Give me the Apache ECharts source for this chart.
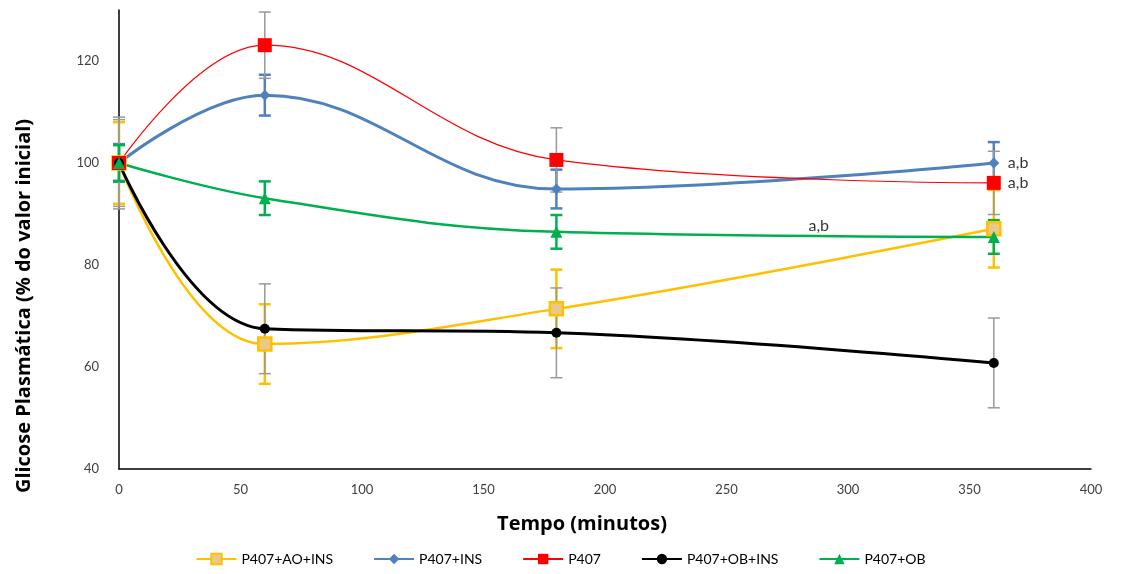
<!DOCTYPE html>
<html><head><meta charset="utf-8">
<script src="https://cdn.jsdelivr.net/npm/echarts@6/dist/echarts.min.js"></script>
<style>html,body{margin:0;padding:0;background:#fff}#c{width:1121px;height:574px}</style>
</head><body><div id="c"></div>
<script>
const times = [0, 60, 180, 360];
const seriesNames = ['P407+AO+INS', 'P407+INS', 'P407', 'P407+OB+INS', 'P407+OB'];
const aoIns = [100, 64.5, 71.4, 87.1];
const aoInsErr = [8, 7.8, 7.7, 7.6];
const ins = [100, 113.3, 94.9, 100];
const insErr = [3.7, 4, 3.8, 4.1];
const p407 = [100, 123.1, 100.6, 96.1];
const p407Err = [9, 6.5, 6.3, 6.2];
const obIns = [100, 67.5, 66.7, 60.8];
const obInsErr = [8.5, 8.8, 8.8, 8.8];
const ob = [100, 93.1, 86.5, 85.5];
const obErr = [3.5, 3.3, 3.3, 3.3];
const xTicks = [0, 50, 100, 150, 200, 250, 300, 350, 400];
const yTicks = [40, 60, 80, 100, 120];
const notes = [[360, 100, 'a,b'], [360, 96.1, 'a,b'], [278, 87.6, 'a,b']];
const xTitle = 'Tempo (minutos)';
const yTitle = 'Glicose Plasmática (% do valor inicial)';

const font = 'Lato';
const titleFont = 'Open Sans';
function pts(v){ return times.map((t,i)=>[t, v[i]]); }
function errData(v, e){ return times.map((t,i)=>[t, v[i]-e[i], v[i]+e[i]]); }
function errSeries(v, e, color, w){
  return {
    type:'custom', silent:true, z:1, data: errData(v,e),
    renderItem: function(params, api){
      const x = api.value(0);
      const lo = api.coord([x, api.value(1)]);
      const hi = api.coord([x, api.value(2)]);
      const hw = 6;
      const st = {stroke: color, lineWidth: w};
      return {type:'group', children:[
        {type:'line', shape:{x1:lo[0],y1:lo[1],x2:hi[0],y2:hi[1]}, style:st},
        {type:'line', shape:{x1:lo[0]-hw,y1:lo[1],x2:lo[0]+hw,y2:lo[1]}, style:st},
        {type:'line', shape:{x1:hi[0]-hw,y1:hi[1],x2:hi[0]+hw,y2:hi[1]}, style:st}
      ]};
    }
  };
}
const chart = echarts.init(document.getElementById('c'));
chart.setOption({
  animation:false,
  grid:{left:119, right:30, top:10, bottom:105, containLabel:false},
  xAxis:{type:'value', min:0, max:400, interval:50,
    axisLine:{show:true, lineStyle:{color:'#000', width:1.5}},
    axisTick:{show:false}, splitLine:{show:false},
    axisLabel:{color:'#404040', fontFamily:font, fontSize:13, margin:14,
      formatter:function(v){ return xTicks.indexOf(v)>=0 ? String(v) : ''; }}},
  yAxis:{type:'value', min:40, max:130, interval:20,
    axisLine:{show:true, lineStyle:{color:'#000', width:1.5}},
    axisTick:{show:false}, splitLine:{show:false},
    axisLabel:{color:'#404040', fontFamily:font, fontSize:13, margin:20,
      formatter:function(v){ return yTicks.indexOf(v)>=0 ? String(v) : ''; }}},
  graphic:[
    {type:'text', x:582, y:524, style:{text:xTitle, fontFamily:titleFont, fontWeight:'bold', fontSize:20, fill:'#000', align:'center', verticalAlign:'middle'}},
    {type:'text', x:24, y:306, rotation:Math.PI/2, style:{text:yTitle, fontFamily:titleFont, fontWeight:'bold', fontSize:20, fill:'#000', align:'center', verticalAlign:'middle'}}
  ],
  legend:{bottom:3, left:'center', itemGap:40, itemWidth:40, itemHeight:13,
    data: seriesNames,
    textStyle:{fontFamily:font, fontSize:14, color:'#000'}},
  series:[
    errSeries(aoIns, aoInsErr, '#ffc000', 2.5),
    errSeries(ins, insErr, '#4f81bd', 2.5),
    errSeries(p407, p407Err, '#999999', 1.5),
    errSeries(obIns, obInsErr, '#999999', 1.5),
    errSeries(ob, obErr, '#00b050', 2.5),
    {name:seriesNames[0], type:'line', smooth:0.4, z:3, data:pts(aoIns),
      symbol:'rect', symbolSize:13, lineStyle:{color:'#ffc000', width:2.5},
      itemStyle:{color:'#e8c98a', borderColor:'#ffc000', borderWidth:2.5}, color:'#ffc000'},
    {name:seriesNames[1], type:'line', smooth:0.4, z:3, data:pts(ins),
      symbol:'diamond', symbolSize:11, lineStyle:{color:'#4f81bd', width:3},
      itemStyle:{color:'#4f81bd'}},
    {name:seriesNames[2], type:'line', smooth:0.4, z:3, data:pts(p407),
      symbol:'rect', symbolSize:14, lineStyle:{color:'#ff0000', width:1.2},
      itemStyle:{color:'#ff0000'}},
    {name:seriesNames[3], type:'line', smooth:0.4, z:3, data:pts(obIns),
      symbol:'circle', symbolSize:10, lineStyle:{color:'#000000', width:3},
      itemStyle:{color:'#000000'}},
    {name:seriesNames[4], type:'line', smooth:0.4, z:3, data:pts(ob),
      symbol:'triangle', symbolSize:12, lineStyle:{color:'#00b050', width:2.5},
      itemStyle:{color:'#00b050'}},
    {type:'scatter', silent:true, z:5, symbolSize:0,
      data: notes.map(n=>({value:[n[0], n[1]], label:{show:true, formatter:n[2], color:'#000'}})),
      label:{show:true, position:'right', distance:14, fontFamily:font, fontSize:16, color:'#000'}}
  ]
});
</script></body></html>
